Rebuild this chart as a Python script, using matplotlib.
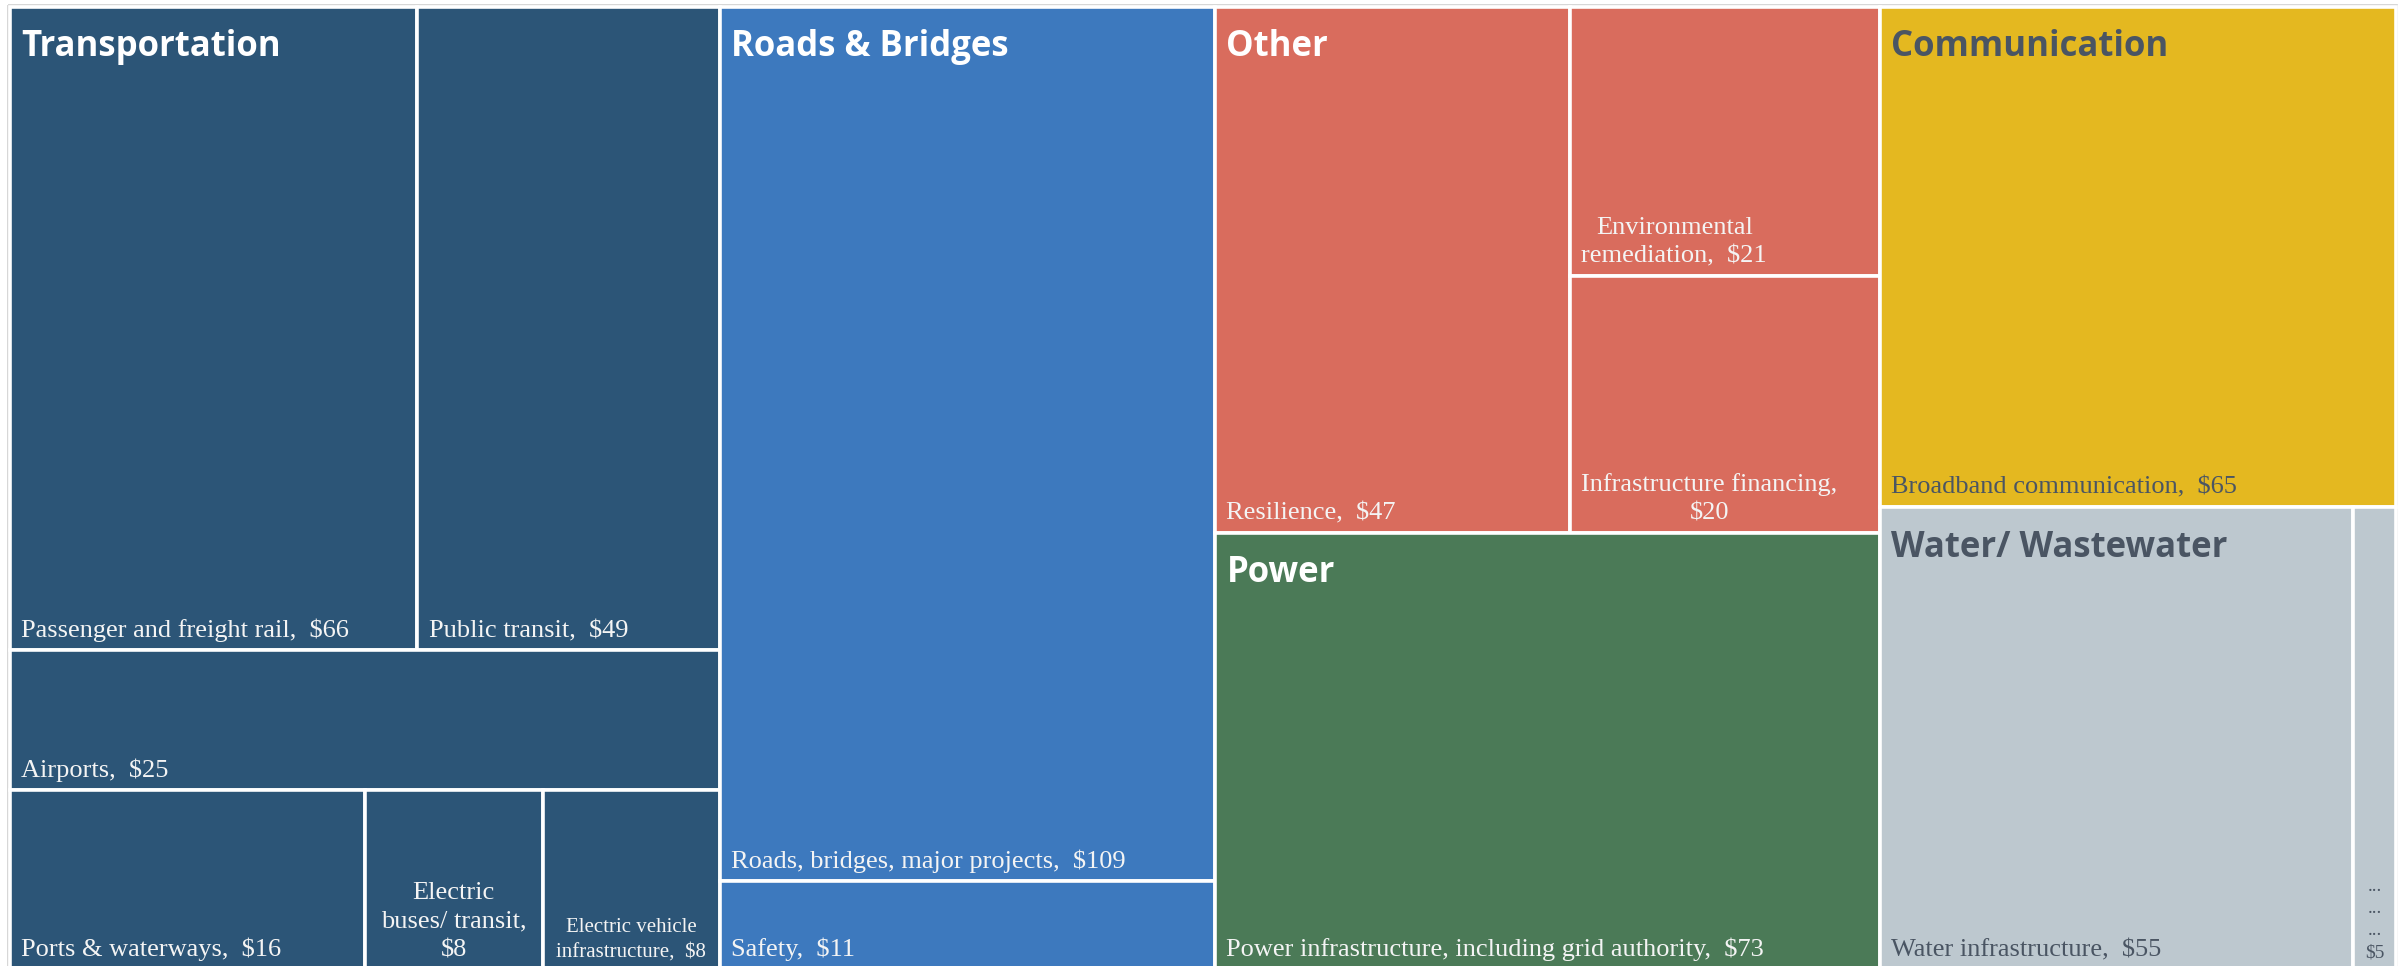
"""treemap of infrastructure spending by sector ($ billions)."""
import matplotlib
matplotlib.use("Agg")
import matplotlib.pyplot as plt
from matplotlib.patches import Rectangle

# sectors and their sub-items
SECTORS = ["Transportation", "Roads & Bridges", "Other", "Power",
           "Communication", "Water/ Wastewater"]
SECTOR_COLORS = ["#2C5577", "#3D79BE", "#D96C5D", "#4B7A57",
                 "#E4B820", "#BDC8CF"]
SECTOR_TEXT = ["white", "white", "white", "white", "#4A5563", "#4A5563"]

TRANSPORT_LABELS = ["Passenger and freight rail,  $66", "Public transit,  $49",
                    "Airports,  $25", "Ports & waterways,  $16",
                    "Electric\nbuses/ transit,\n$8",
                    "Electric vehicle\ninfrastructure,  $8"]
TRANSPORT_VALUES = [66, 49, 25, 16, 8, 8]

ROADS_LABELS = ["Roads, bridges, major projects,  $109", "Safety,  $11"]
ROADS_VALUES = [109, 11]

OTHER_LABELS = ["Resilience,  $47", "Environmental\nremediation,  $21",
                "Infrastructure financing,\n$20"]
OTHER_VALUES = [47, 21, 20]

POWER_LABELS = ["Power infrastructure, including grid authority,  $73"]
POWER_VALUES = [73]

COMM_LABELS = ["Broadband communication,  $65"]
COMM_VALUES = [65]

WATER_LABELS = ["Water infrastructure,  $55", "...\n...\n...\n$5"]
WATER_VALUES = [55, 5]

ITEMS = [
    (TRANSPORT_LABELS, TRANSPORT_VALUES),
    (ROADS_LABELS, ROADS_VALUES),
    (OTHER_LABELS, OTHER_VALUES),
    (POWER_LABELS, POWER_VALUES),
    (COMM_LABELS, COMM_VALUES),
    (WATER_LABELS, WATER_VALUES),
]

# small labels and labels centred in their tile
SMALL = {(0, 5): 15, (5, 1): 14}
CENTERED = {(0, 4), (0, 5), (5, 1)}

# nesting of the tiles: ('h', ...) splits left-right, ('v', ...) top-bottom
# leaves are (sector, item)
TREE = ("h", [
    ("v", [("h", [(0, 0), (0, 1)]), (0, 2), ("h", [(0, 3), (0, 4), (0, 5)])]),
    ("v", [(1, 0), (1, 1)]),
    ("v", [("h", [(2, 0), ("v", [(2, 1), (2, 2)])]), (3, 0)]),
    ("v", [(4, 0), ("h", [(5, 0), (5, 1)])]),
])

FIG_W, FIG_H = 2407, 966
REGION = (10, 6.5, 2396, 969.5)  # x0, y0, x1, y1 in pixels


def nodeValue(node):
    if node[0] in ("h", "v"):
        return sum(nodeValue(c) for c in node[1])
    s, i = node
    return ITEMS[s][1][i]


def layout(node, x, y, w, h, out):
    if node[0] not in ("h", "v"):
        out.append((node, x, y, w, h))
        return
    direction, children = node
    total = nodeValue(node)
    pos = 0.0
    for c in children:
        frac = nodeValue(c) / total
        if direction == "h":
            layout(c, x + pos * w, y, frac * w, h, out)
        else:
            layout(c, x, y + pos * h, w, frac * h, out)
        pos += frac


def main():
    fig = plt.figure(figsize=(FIG_W / 100, FIG_H / 100), dpi=100)

    # background axes in pixel units for the outer frame
    bg = fig.add_axes([0, 0, 1, 1])
    bg.set_xlim(0, FIG_W)
    bg.set_ylim(FIG_H, 0)
    bg.axis("off")
    bg.add_patch(Rectangle((8, 5), 2389, 990, facecolor="none",
                           edgecolor="#CFCFCF", linewidth=1.2, clip_on=False))

    x0, y0, x1, y1 = REGION
    ax = fig.add_axes([x0 / FIG_W, 1 - y1 / FIG_H,
                       (x1 - x0) / FIG_W, (y1 - y0) / FIG_H])
    ax.set_xlim(0, 1)
    ax.set_ylim(1, 0)
    ax.axis("off")

    tiles = []
    layout(TREE, 0.0, 0.0, 1.0, 1.0, tiles)

    # sector corners for the headers
    corners = {}
    for (s, i), x, y, w, h in tiles:
        ax.add_patch(Rectangle((x, y), w, h, facecolor=SECTOR_COLORS[s],
                               edgecolor="white", linewidth=2.6,
                               clip_on=False))
        cx, cy = corners.get(s, (x, y))
        corners[s] = (min(cx, x), min(cy, y))

        label = ITEMS[s][0][i]
        size = SMALL.get((s, i), 19)
        if (s, i) in CENTERED:
            xy, dx, ha = (x + w / 2, y + h), 0, "center"
        else:
            xy, dx, ha = (x, y + h), 8, "left"
        txt_color = SECTOR_TEXT[s] if SECTOR_TEXT[s] != "white" else "#F4F4F4"
        ax.annotate(label, xy=xy, xytext=(dx, 6), textcoords="offset points",
                    ha=ha, va="bottom", multialignment="center",
                    fontsize=size, family="Liberation Serif",
                    color=txt_color, linespacing=1.38,
                    annotation_clip=False)

    for s, name in enumerate(SECTORS):
        ax.annotate(name, xy=corners[s], xytext=(8, -35.5),
                    textcoords="offset points", ha="left", va="baseline",
                    fontsize=25, fontweight="bold", family="Open Sans",
                    color=SECTOR_TEXT[s])

    fig.savefig("out.png", dpi=100)
    plt.close(fig)


if __name__ == "__main__":
    main()
